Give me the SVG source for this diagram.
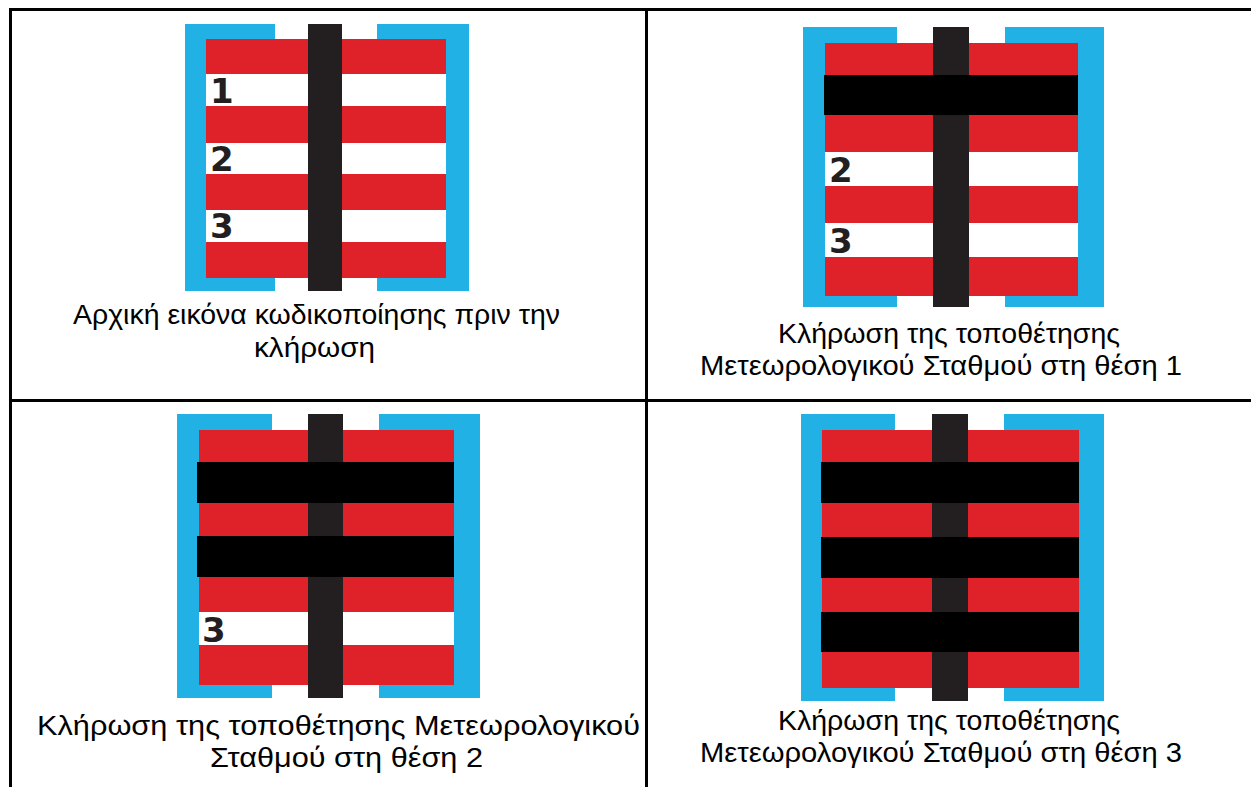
<svg xmlns="http://www.w3.org/2000/svg" width="1251" height="787" viewBox="0 0 1251 787">
<style>
.bl{fill:#22b1e5}.rd{fill:#df2229}.wh{fill:#ffffff}.pl{fill:#231f20}.bk{fill:#000000}
.num{font-family:"DejaVu Sans",sans-serif;font-weight:bold;font-size:34px;fill:#231f20}
.cap{font-family:"Liberation Sans","Open Sans",sans-serif;font-size:28.5px;fill:#000000}
.grid{stroke:#000000;stroke-width:3;fill:none}
</style>
<rect x="0" y="0" width="1251" height="787" fill="#ffffff"/>
<g id="table-lines">
<line class="grid" x1="10.5" y1="8" x2="10.5" y2="787"/>
<line class="grid" x1="9" y1="9.5" x2="1251" y2="9.5"/>
<line class="grid" x1="646.5" y1="8" x2="646.5" y2="787"/>
<line class="grid" x1="9" y1="400.5" x2="1251" y2="400.5"/>
</g>
<g id="cell-initial">
<rect class="bl" x="185" y="24" width="284" height="267"/>
<rect class="wh" x="275" y="24" width="102" height="15"/>
<rect class="wh" x="275" y="278" width="102" height="13"/>
<rect class="rd" x="206" y="39" width="240" height="239"/>
<rect class="wh" x="206" y="74" width="240" height="32"/>
<rect class="wh" x="206" y="143" width="240" height="31"/>
<rect class="wh" x="206" y="210" width="240" height="32"/>
<rect class="pl" x="308" y="24" width="34" height="267"/>
<text class="num" x="210" y="103">1</text>
<text class="num" x="210" y="171">2</text>
<text class="num" x="210" y="238">3</text>
<text class="cap" x="73" y="324" textLength="487" lengthAdjust="spacingAndGlyphs">Αρχική εικόνα κωδικοποίησης πριν την</text>
<text class="cap" x="254" y="357" textLength="121" lengthAdjust="spacingAndGlyphs">κλήρωση</text>
</g>
<g id="cell-position-1">
<rect class="bl" x="803" y="27" width="301" height="280"/>
<rect class="wh" x="897" y="27" width="108" height="16"/>
<rect class="wh" x="897" y="296" width="108" height="11"/>
<rect class="rd" x="825" y="43" width="253" height="253"/>
<rect class="wh" x="825" y="152" width="253" height="34"/>
<rect class="wh" x="825" y="223" width="253" height="34"/>
<rect class="pl" x="933" y="27" width="36" height="280"/>
<rect class="bk" x="824" y="75" width="254" height="40"/>
<text class="num" x="829" y="182">2</text>
<text class="num" x="829" y="253">3</text>
<text class="cap" x="778" y="343" textLength="342" lengthAdjust="spacingAndGlyphs">Κλήρωση της τοποθέτησης</text>
<text class="cap" x="700" y="375" textLength="482" lengthAdjust="spacingAndGlyphs">Μετεωρολογικού Σταθμού στη θέση 1</text>
</g>
<g id="cell-position-2">
<rect class="bl" x="177" y="414" width="303" height="284"/>
<rect class="wh" x="272" y="414" width="107" height="16"/>
<rect class="wh" x="272" y="685" width="107" height="13"/>
<rect class="rd" x="199" y="430" width="255" height="255"/>
<rect class="wh" x="199" y="612" width="255" height="33"/>
<rect class="pl" x="308" y="414" width="35" height="284"/>
<rect class="bk" x="197" y="462" width="257" height="41"/>
<rect class="bk" x="197" y="536" width="257" height="41"/>
<text class="num" x="202" y="642">3</text>
<text class="cap" x="37" y="735" textLength="603" lengthAdjust="spacingAndGlyphs">Κλήρωση της τοποθέτησης Μετεωρολογικού</text>
<text class="cap" x="210" y="767" textLength="273" lengthAdjust="spacingAndGlyphs">Σταθμού στη θέση 2</text>
</g>
<g id="cell-position-3">
<rect class="bl" x="801" y="414" width="303" height="287"/>
<rect class="wh" x="895" y="414" width="109" height="16"/>
<rect class="wh" x="895" y="688" width="109" height="13"/>
<rect class="rd" x="822" y="430" width="257" height="258"/>
<rect class="pl" x="932" y="414" width="36" height="287"/>
<rect class="bk" x="821" y="462" width="258" height="41"/>
<rect class="bk" x="821" y="537" width="258" height="41"/>
<rect class="bk" x="821" y="612" width="258" height="40"/>
<text class="cap" x="778" y="730" textLength="342" lengthAdjust="spacingAndGlyphs">Κλήρωση της τοποθέτησης</text>
<text class="cap" x="700" y="762" textLength="482" lengthAdjust="spacingAndGlyphs">Μετεωρολογικού Σταθμού στη θέση 3</text>
</g>
</svg>
